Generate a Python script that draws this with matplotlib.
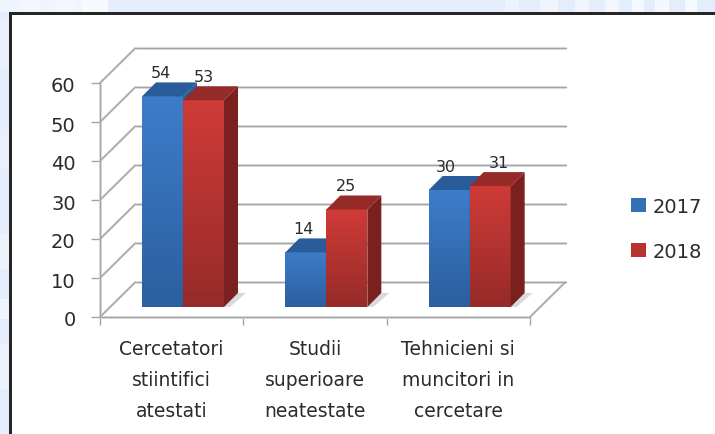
import numpy as np
import matplotlib
matplotlib.use('Agg')
import matplotlib.pyplot as plt
from matplotlib.patches import Polygon, Rectangle, Patch
from matplotlib.colors import LinearSegmentedColormap
from matplotlib.transforms import ScaledTranslation

# data
categories = ['Cercetatori\nstiintifici\natestati', 'Studii\nsuperioare\nneatestate', 'Tehnicieni si\nmuncitori in\ncercetare']
years = ['2017', '2018']
values_2017 = [54, 14, 30]
values_2018 = [53, 25, 31]
y_ticks = [0, 10, 20, 30, 40, 50, 60]

W, H = 715, 435
TEXT = '#2b2b2b'
GRID = '#a4a4a4'
BG = '#e4edfb'

fig = plt.figure(figsize=(W / 100, H / 100), dpi=100, facecolor=BG)


def fig_rect(x, y, w, h, **kw):
    # x, y, w, h in pixels from top left
    fig.add_artist(Rectangle((x / W, 1 - (y + h) / H), w / W, h / H, transform=fig.transFigure, lw=0, zorder=-5, **kw))


# page background streaks
for x0, w, c in [(0, 108, '#eff4fd'), (20, 20, '#f3f6fd'), (55, 22, '#f2f6fd'), (82, 26, '#f6f9fe'),
                 (505, 14, '#edf3fc'), (540, 18, '#eff4fd'), (575, 14, '#f1f5fd'), (605, 14, '#f3f7fd'),
                 (632, 12, '#f5f8fe'), (655, 14, '#f3f7fe'), (685, 12, '#f5f8fe')]:
    fig_rect(x0, 0, w, 13, color=c)
for y0, h, c in [(20, 50, '#eaf0fb'), (130, 40, '#eaf0fb'), (235, 35, '#eef2fb'), (300, 20, '#f0f4fc'), (345, 45, '#ecf1fb')]:
    fig_rect(0, y0, 9, h, color=c)

# white panel and its dark frame
fig_rect(10, 14, W - 10, H - 14, color='white')
fig_rect(9, 13, W - 9, 2.5, color='#262626')
fig_rect(9, 13, 2.5, H - 13, color='#262626')

# axes: front plane of the 3d box
ax = fig.add_axes([100 / W, 1 - 318 / H, 430 / W, 234 / H])
ax.patch.set_visible(False)
px_x = 3 / 430
px_y = 60 / 234
depth_x = 35.5 * px_x
depth_y = 35 * px_y


def poly(pts, color, z, **kw):
    ax.add_patch(Polygon(pts, closed=True, facecolor=color, edgecolor='none', zorder=z, clip_on=False, **kw))


def line(xs, ys, z=2):
    ax.plot(xs, ys, color='#e2e2e2', lw=2, zorder=z, clip_on=False, solid_capstyle='butt')
    ax.plot(xs, ys, color=GRID, lw=1, zorder=z + 0.1, clip_on=False, solid_capstyle='round')


# floor
poly([(0, 0), (3, 0), (3 + depth_x, depth_y), (depth_x, depth_y)], 'white', 1)
line([3, 3 + depth_x], [0, depth_y])
line([0, 3], [0, 0])

# walls
for v in y_ticks:
    line([depth_x, 3 + depth_x], [v + depth_y, v + depth_y])
    line([0, depth_x], [v, v + depth_y])
line([0, 0], [0, 60])

# bars
bar_w = 41 * px_x
top_dx = 14 * px_x
top_dy = 14 * px_y
base_y = 10 * px_y
start = 42 * px_x
front_styles = [('#3d7cca', '#2c5f9f', '#295c99', '#2a5d9c'),
                ('#cf3b37', '#962b29', '#962a28', '#7a211f')]


def draw_bar(x, v, style, z):
    top_c, bot_c, roof_c, side_c = style
    y0 = base_y
    y1 = base_y + v
    cmap = LinearSegmentedColormap.from_list('g', [top_c, bot_c])
    # shadow on the floor
    poly([(x + bar_w, y0), (x + bar_w + top_dx, y0 + top_dy), (x + bar_w + 22 * px_x, y0 + top_dy),
          (x + bar_w + 6 * px_x, y0)], '#dadada', 3)
    ax.imshow(np.linspace(0, 1, 64).reshape(-1, 1), cmap=cmap, aspect='auto',
              extent=[x, x + bar_w, y0, y1], zorder=z, clip_on=False, interpolation='bilinear')
    poly([(x + bar_w, y0), (x + bar_w + top_dx, y0 + top_dy), (x + bar_w + top_dx, y1 + top_dy), (x + bar_w, y1)], side_c, z)
    poly([(x, y1), (x + bar_w, y1), (x + bar_w + top_dx, y1 + top_dy), (x + top_dx, y1 + top_dy)], roof_c, z)


label_shift = [[-2, -2, -3], [0, -1, 9]]
for i in range(3):
    x = i + start
    draw_bar(x, values_2017[i], front_styles[0], 4 + i)
    draw_bar(x + bar_w, values_2018[i], front_styles[1], 4.5 + i)
    for s, (vals, bx) in enumerate([(values_2017, x), (values_2018, x + bar_w)]):
        ax.annotate(str(vals[i]), (bx + bar_w / 2, base_y + vals[i]), xytext=(label_shift[s][i] * 0.72, 24 * 0.72),
                    textcoords='offset points', ha='center', va='center', fontsize=11.5, color=TEXT,
                    annotation_clip=False, zorder=10)

ax.set_xlim(0, 3)
ax.set_ylim(0, 60)
for s in ax.spines.values():
    s.set_visible(False)

ax.set_yticks(y_ticks)
ax.set_yticklabels([str(v) for v in y_ticks], fontsize=14, color=TEXT)
ax.tick_params(axis='y', length=6.5, width=1, color=GRID, pad=11)
down = ScaledTranslation(0, -1 / 100, fig.dpi_scale_trans)
for t in ax.get_yticklabels():
    t.set_transform(t.get_transform() + down)
ax.set_xticks([0, 1, 2, 3])
ax.set_xticklabels([])
ax.tick_params(axis='x', which='major', length=5.5, width=1, color=GRID)
ax.set_xticks([0.5, 1.5, 2.5], minor=True)
ax.set_xticklabels(categories, minor=True, fontsize=13.5, color=TEXT, linespacing=1.8)
ax.tick_params(axis='x', which='minor', length=0, pad=16)

handles = [Patch(facecolor='#3570b5', edgecolor='none'), Patch(facecolor='#b8322f', edgecolor='none')]
fig.legend(handles, years, loc='center left', bbox_to_anchor=(631 / W, 1 - 230 / H), frameon=False,
           fontsize=14, labelcolor=TEXT, handlelength=0.77, handleheight=0.7, handletextpad=0.32, labelspacing=1.33,
           borderpad=0, borderaxespad=0)

fig.savefig('out.png', dpi=100)
